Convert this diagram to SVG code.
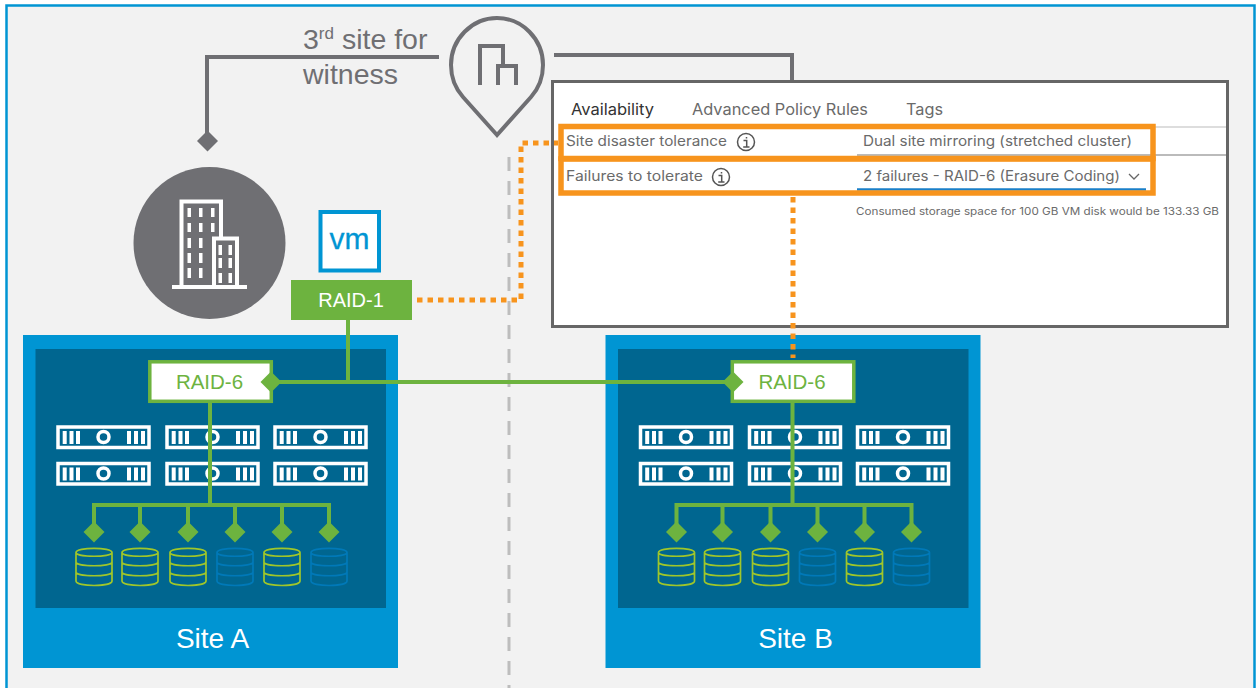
<svg xmlns="http://www.w3.org/2000/svg" width="1260" height="688" viewBox="0 0 1260 688">
<style>
.g{fill:none;stroke:#6db33f;stroke-width:4}
.gf{fill:#6db33f}
.gray{fill:none;stroke:#6f6f73;stroke-width:4}
.dot{fill:none;stroke:#f7941d;stroke-width:5;stroke-dasharray:5.5 5}
.ora{fill:none;stroke:#f7941d;stroke-width:5.5}
.t{font-family:"Liberation Sans",Arial,sans-serif}
.u{font-family:Inter,"Open Sans",sans-serif;fill:#6a6a6a}
.cg{fill:none;stroke:#9fc62a;stroke-width:1.700}
.cb{fill:none;stroke:#0079b8;stroke-width:1.700}
</style>
<defs>
<g id="server">
<rect x="2" y="2" width="91" height="20.500" fill="none" stroke="#fff" stroke-width="3.500"/>
<path d="M6.700 6h4v13h-4zM13.500 6h4v13h-4zM20 6h4v13h-4zM71 6h4v13h-4zM78 6h4v13h-4zM85 6h4v13h-4z" fill="#fff"/>
<circle cx="47.500" cy="12" r="5.500" fill="none" stroke="#fff" stroke-width="3.500"/>
</g>
<path id="cyl" d="M-18 4.500C-18 -1 18 -1 18 4.500V33C18 39 -18 39 -18 33ZM-18 4.500C-18 9.500 18 9.500 18 4.500M-18 14C-18 19 18 19 18 14M-18 24C-18 29 18 29 18 24"/>
<path id="dia" d="M0 -10.500L10.500 0L0 10.500L-10.500 0Z"/>
<g id="info"><circle r="8.500" fill="none" stroke="#555" stroke-width="1.500"/><path d="M-2.500 -1.500H0.700V5M-2.800 5H3.500M0.500 -5V-3.500" fill="none" stroke="#555" stroke-width="1.500"/></g>
<g id="site">
<rect x="23" y="335" width="375" height="333" fill="#0095d3"/>
<rect x="35.500" y="349" width="350.500" height="259" fill="#006690"/>
<use href="#server" x="56" y="425"/><use href="#server" x="165" y="425"/><use href="#server" x="273" y="425"/>
<use href="#server" x="56" y="461.500"/><use href="#server" x="165" y="461.500"/><use href="#server" x="273" y="461.500"/>
<path class="g" d="M210 403V505M94 532V505H329V532M140 505V532M188 505V532M235 505V532M282 505V532"/>
<g class="gf"><use href="#dia" x="94" y="532"/><use href="#dia" x="140" y="532"/><use href="#dia" x="188" y="532"/><use href="#dia" x="235" y="532"/><use href="#dia" x="282" y="532"/><use href="#dia" x="329" y="532"/></g>
<g class="cg"><use href="#cyl" x="94" y="548"/><use href="#cyl" x="140" y="548"/><use href="#cyl" x="188" y="548"/><use href="#cyl" x="282" y="548"/></g>
<g class="cb"><use href="#cyl" x="235" y="548"/><use href="#cyl" x="329" y="548"/></g>
<rect x="149.800" y="361.800" width="121.500" height="39.500" fill="#fff" stroke="#6db33f" stroke-width="3.500"/>
</g>
</defs>
<rect width="1260" height="688" fill="#fff"/>
<rect x="6.500" y="5.500" width="1248" height="700" fill="#f2f2f2" stroke="#0095d3" stroke-width="2.500"/>
<path d="M509 157V688" fill="none" stroke="#bdbdbd" stroke-width="3" stroke-dasharray="14 10"/>
<g id="site-a"><use href="#site"/>
<text class="t" x="212.500" y="648" font-size="28" fill="#fff" text-anchor="middle">Site A</text>
<text class="t" x="209.500" y="389" font-size="20.500" fill="#6db33f" text-anchor="middle">RAID-6</text></g>
<g id="site-b"><use href="#site" x="582.500"/>
<text class="t" x="795.500" y="648" font-size="28" fill="#fff" text-anchor="middle">Site B</text>
<text class="t" x="792" y="389" font-size="20.500" fill="#6db33f" text-anchor="middle">RAID-6</text></g>
<g id="building">
<circle cx="209.500" cy="243" r="76" fill="#6f6f73"/>
<path d="M172 287H247M181.500 287V201.500H221V238M214 287V238.500H237V287" fill="none" stroke="#fff" stroke-width="4"/>
<path fill="#fff" d="M187.500 208h3.500v9h-3.500zM199 208h3.500v9h-3.500zM211 208h3.500v9h-3.500zM187.500 223h3.500v9h-3.500zM199 223h3.500v9h-3.500zM211 223h3.500v9h-3.500zM187.500 238h3.500v10h-3.500zM199 238h3.500v10h-3.500zM187.500 253h3.500v10h-3.500zM199 253h3.500v10h-3.500zM187.500 268h3.500v10h-3.500zM199 268h3.500v10h-3.500zM218.500 245h3.500v10h-3.500zM228.500 245h3.500v10h-3.500zM218.500 258h3.500v10h-3.500zM228.500 258h3.500v10h-3.500zM218.500 273h3.500v10h-3.500zM228.500 273h3.500v10h-3.500z"/>
</g>
<g id="witness">
<path class="gray" d="M497 135L463 97C455 88 451 77 451 65C451 39 472 18 497 18C522 18 543 39 543 65C543 77 539 88 531 97Z"/>
<path class="gray" d="M480 85V46H503V66H516V85M498 85V66H503"/>
<text class="t" x="303" y="49" font-size="28.500" fill="#6f6f73">3<tspan font-size="17" dy="-10">rd</tspan><tspan dy="10"> site for</tspan></text>
<text class="t" x="303" y="84" font-size="28.500" fill="#6f6f73">witness</text>
</g>
<g id="vm">
<rect x="320.500" y="212" width="58.500" height="58.500" fill="#fff" stroke="#0095d3" stroke-width="4"/>
<text class="t" x="349.500" y="249" font-size="29" fill="#0095d3" stroke="#0095d3" stroke-width="0.300" text-anchor="middle" textLength="40" lengthAdjust="spacingAndGlyphs">vm</text>
</g>
<g id="raid-1">
<rect x="291" y="280" width="121" height="40" fill="#6db33f"/>
<text class="t" x="351" y="307" font-size="20" fill="#fff" text-anchor="middle">RAID-1</text>
</g>
<g id="policy-panel">
<rect x="552.500" y="81.500" width="675" height="245" fill="#fff" stroke="#666" stroke-width="3"/>
<path d="M560 127H1226" stroke="#ddd" stroke-width="2" fill="none"/>
<path d="M857 155H1226" stroke="#bbb" stroke-width="2" fill="none"/>
<path d="M857 189.500H1146" stroke="#1a7fc8" stroke-width="2.500" fill="none"/>
<text class="u" x="571" y="115" font-size="16" style="fill:#333" textLength="83" lengthAdjust="spacingAndGlyphs">Availability</text>
<text class="u" x="692" y="115" font-size="16" textLength="176" lengthAdjust="spacingAndGlyphs">Advanced Policy Rules</text>
<text class="u" x="906" y="115" font-size="16" textLength="37" lengthAdjust="spacingAndGlyphs">Tags</text>
<text class="u" x="566" y="146" font-size="14" textLength="161" lengthAdjust="spacingAndGlyphs">Site disaster tolerance</text>
<text class="u" x="566" y="181" font-size="14" textLength="137" lengthAdjust="spacingAndGlyphs">Failures to tolerate</text>
<use href="#info" x="746" y="142"/>
<use href="#info" x="721" y="177"/>
<text class="u" x="863" y="146" font-size="14" textLength="269" lengthAdjust="spacingAndGlyphs">Dual site mirroring (stretched cluster)</text>
<text class="u" x="863" y="181" font-size="14" textLength="257" lengthAdjust="spacingAndGlyphs">2 failures - RAID-6 (Erasure Coding)</text>
<path d="M1129 174L1134 179L1139 174" fill="none" stroke="#666" stroke-width="1.300"/>
<text class="u" x="856" y="215" font-size="10.500" textLength="363" lengthAdjust="spacingAndGlyphs">Consumed storage space for 100 GB VM disk would be 133.33 GB</text>
<rect x="561" y="126.500" width="592" height="32" class="ora"/>
<rect x="561" y="159" width="592" height="34" class="ora"/>
</g>
<g id="connectors">
<path class="gray" d="M439 57H207V135"/>
<use href="#dia" x="207.500" y="141" fill="#6f6f73"/>
<path class="gray" d="M554 55H792V80"/>
<path class="g" d="M348 320V382M273 382H740"/>
<use href="#dia" x="271" y="382" class="gf"/>
<use href="#dia" x="733" y="382" class="gf"/>
<path class="dot" d="M417 300H521V143H558"/>
<path class="dot" d="M793 197V358"/>
</g>
</svg>
